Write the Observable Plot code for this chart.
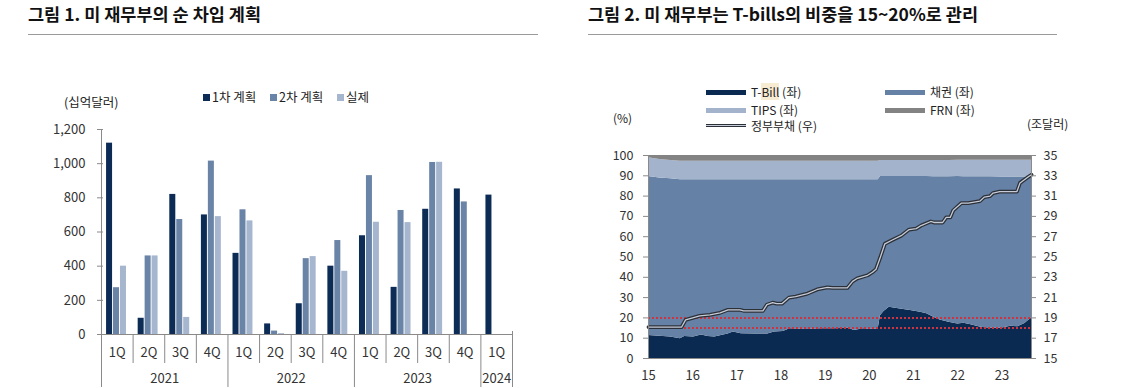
<!DOCTYPE html>
<html><head><meta charset="utf-8">
<script src="https://cdn.jsdelivr.net/npm/d3@7"></script>
<script src="https://cdn.jsdelivr.net/npm/@observablehq/plot@0.6"></script>
<style>
body{margin:0;background:#fff;font-family:'Noto Sans CJK KR','Noto Sans',sans-serif;color:#333}
#wrap{position:relative;width:1125px;height:388px;overflow:hidden;background:#fff}
.abs{position:absolute;white-space:nowrap}
.title{font-size:17.5px;font-weight:700;color:#111;top:2px;line-height:24px}
.hr{height:1px;background:#9a9a9a;top:34px}
.lg{font-size:12px;line-height:14px;color:#222}
.sq{width:7px;height:7px}
.sw{width:40px;height:5px}
svg{position:absolute;top:0}
</style></head>
<body><div id="wrap"></div>
<script>
// ---------- Figure 1 data ----------
const quarters = ["1Q","2Q","3Q","4Q","1Q","2Q","3Q","4Q","1Q","2Q","3Q","4Q","1Q"];
const years = ["2021","2022","2023","2024"];
const quartersPerYear = [4,4,4,1];
const seriesNames = ["1차 계획","2차 계획","실제"];
const plan1  = [1120, 95, 820, 700, 475, 62, 180, 400, 578, 276, 733, 852, 816];
const plan2  = [274, 460, 673, 1015, 730, 20, 444, 550, 930, 726, 1007, 776, null];
const actual = [400, 460, 100, 690, 665, 5, 456, 370, 657, 655, 1008, null, null];
const yTicks1 = [0, 200, 400, 600, 800, 1000, 1200];

// ---------- Figure 2 data ----------
const shareDates = [2015.00,2015.25,2015.50,2015.72,2015.82,2016.02,2016.20,2016.35,2016.50,2016.65,2016.80,2016.92,2017.10,2017.40,2017.70,2017.85,2018.05,2018.20,2018.60,2018.90,2019.20,2019.55,2019.65,2019.87,2020.10,2020.20,2020.25,2020.33,2020.45,2020.70,2020.93,2021.16,2021.30,2021.46,2021.60,2021.80,2022.00,2022.14,2022.30,2022.52,2022.75,2022.98,2023.20,2023.36,2023.52,2023.60,2023.67];
const tbillShare = [11.3,11.0,10.6,9.7,10.8,10.6,11.6,10.8,10.6,11.3,12.1,13.0,12.2,12.1,12.1,13.0,13.3,14.6,14.3,14.6,14.6,14.9,13.8,14.6,14.3,14.6,21.1,23.1,25.2,24.4,23.6,22.8,22.0,20.3,19.0,17.9,17.0,17.4,16.6,15.4,14.9,14.9,15.9,15.7,17.2,18.7,19.8];
const tipsShare = [9.2,9.1,9.0,9.2,9.2,9.2,9.2,9.2,9.2,9.2,9.2,9.2,9.2,9.2,9.2,9.2,9.2,9.2,9.2,9.2,9.2,9.2,9.2,9.2,9.2,9.2,7.8,7.8,7.8,7.8,7.9,7.9,7.9,8.0,8.0,8.0,8.0,8.1,8.1,8.1,8.1,8.2,8.2,8.2,8.2,8.3,8.3];
const frnShare = [1.1,2.0,2.5,2.8,2.8,2.8,2.8,2.8,2.8,2.8,2.8,2.8,2.8,2.8,2.8,2.8,2.8,2.8,2.8,2.8,2.8,2.8,2.8,2.8,2.8,2.8,2.5,2.5,2.5,2.5,2.5,2.5,2.5,2.5,2.5,2.5,2.4,2.4,2.4,2.4,2.4,2.4,2.4,2.4,2.4,2.4,2.4];
const debtDates = [2015.00,2015.75,2015.84,2016.16,2016.39,2016.62,2016.80,2017.07,2017.15,2017.59,2017.68,2017.81,2017.90,2018.02,2018.18,2018.33,2018.60,2018.82,2019.05,2019.16,2019.50,2019.62,2019.73,2019.96,2020.07,2020.15,2020.25,2020.35,2020.53,2020.72,2020.90,2021.06,2021.17,2021.39,2021.46,2021.66,2021.74,2021.83,2021.90,2022.08,2022.24,2022.50,2022.60,2022.73,2022.80,2022.95,2023.34,2023.41,2023.60,2023.67];
const debtTrillion = [18.1,18.1,18.8,19.2,19.3,19.5,19.8,19.8,19.7,19.7,20.3,20.5,20.4,20.4,21.0,21.1,21.4,21.8,22.0,21.95,21.95,22.6,22.9,23.2,23.5,23.8,25.0,26.3,26.7,27.1,27.7,27.8,28.1,28.5,28.4,28.4,28.9,28.9,29.6,30.3,30.3,30.5,30.9,31.0,31.3,31.45,31.45,32.3,32.9,33.1];
const shareNames = ["T-Bill","채권","TIPS","FRN"];
const pctTicks = [0,10,20,30,40,50,60,70,80,90,100];
const debtTicks = [15,17,19,21,23,25,27,29,31,33,35];
const yearTicks = [2015,2016,2017,2018,2019,2020,2021,2022,2023];
const targetBand = [15, 20];

// ---------- styles ----------
const barColors = ["#0c2c56","#6a84a7","#a6b6ce"];
const areaColors = ["#0b2a52","#6581a5","#a3b3cc","#838383"];
const axisColor = "#8a8a8a";
const FONT = "'Noto Sans CJK KR','Noto Sans',sans-serif";

const wrap = document.getElementById("wrap");

// ---------- Figure 1 ----------
const barOffset = [0.16, 0.38, 0.60], barW = 0.19;
const allSeries = [plan1, plan2, actual];
const barRows = [];
allSeries.forEach((arr, s) => arr.forEach((v, i) => { if (v != null) barRows.push({i, s: seriesNames[s], k: s, v}); }));
const yearStarts = []; let acc = 0;
quartersPerYear.forEach(n => { yearStarts.push(acc); acc += n; });
const yearBounds = [...yearStarts, acc];
const quarterBounds = d3.range(acc + 1).filter(b => !yearBounds.includes(b));

const chart1 = Plot.plot({
  width: 560, height: 388,
  marginLeft: 101, marginRight: 48, marginTop: 129, marginBottom: 54,
  style: {background: "transparent", fontFamily: FONT, color: "#333"},
  x: {domain: [0, quarters.length], axis: null},
  y: {domain: [0, 1200], axis: null},
  color: {domain: seriesNames, range: barColors},
  marks: [
    Plot.rectY(barRows, {x1: d => d.i + barOffset[d.k], x2: d => d.i + barOffset[d.k] + barW, y1: 0, y2: "v", fill: "s"}),
    Plot.ruleX([0], {y1: 0, y2: 1200, stroke: axisColor}),
    Plot.ruleY(yTicks1, {x1: 0, x2: 0, insetLeft: -4, insetRight: -2, stroke: axisColor}),
    Plot.ruleY([0], {x1: 0, x2: quarters.length, insetLeft: -4, stroke: axisColor}),
    Plot.ruleX(quarterBounds, {y1: 0, y2: 0, insetBottom: -29, stroke: axisColor}),
    Plot.ruleX(yearBounds, {y1: 0, y2: 0, insetBottom: -53, stroke: axisColor}),
    Plot.ruleX([quarters.length], {y1: 0, y2: 0, insetTop: -3, stroke: axisColor}),
    Plot.text(yTicks1, {x: 0, y: d => d, text: d => d3.format(",")(d), textAnchor: "end", dx: -16, fontSize: 13}),
    Plot.text(quarters, {x: (d, i) => i + 0.5, y: 0, dy: 18, text: d => d, fontSize: 13}),
    Plot.text(years, {x: (d, i) => yearStarts[i] + quartersPerYear[i] / 2, y: 0, dy: 44, text: d => d, fontSize: 13})
  ]
});
chart1.style.left = "0px";
wrap.appendChild(chart1);

// ---------- Figure 2 ----------
const areaRows = [];
shareDates.forEach((dt, i) => {
  const bonds = 100 - tbillShare[i] - tipsShare[i] - frnShare[i];
  [tbillShare[i], bonds, tipsShare[i], frnShare[i]].forEach((v, k) => areaRows.push({date: dt, series: shareNames[k], share: v}));
});
const debtRows = debtDates.map((dt, i) => ({date: dt, debt: debtTrillion[i]}));
const debtToPct = v => (v - debtTicks[0]) / (debtTicks[debtTicks.length - 1] - debtTicks[0]) * 100;
const x0 = shareDates[0], x1 = shareDates[shareDates.length - 1];

const chart2 = Plot.plot({
  width: 565, height: 388,
  marginLeft: 88, marginRight: 94, marginTop: 155, marginBottom: 30,
  style: {background: "transparent", fontFamily: FONT, color: "#333"},
  x: {domain: [x0, x1], axis: null},
  y: {domain: [0, 100], axis: null},
  color: {domain: shareNames, range: areaColors},
  marks: [
    Plot.areaY(areaRows, {x: "date", y: "share", fill: "series", z: "series", order: shareNames}),
    Plot.ruleY(targetBand, {stroke: "#cf3340", strokeWidth: 2, strokeDasharray: "2,2"}),
    Plot.line(debtRows, {x: "date", y: d => debtToPct(d.debt), stroke: "#2c3038", strokeWidth: 3.8}),
    Plot.line(debtRows, {x: "date", y: d => debtToPct(d.debt), stroke: "#c5ccd8", strokeWidth: 1.3}),
    Plot.ruleX([x0], {stroke: axisColor}),
    Plot.ruleX([x1], {stroke: axisColor}),
    Plot.ruleY([0], {stroke: axisColor}),
    Plot.ruleY(pctTicks, {x1: x0, x2: x0, insetLeft: -5, stroke: axisColor}),
    Plot.ruleY(debtTicks, {y: d => debtToPct(d), x1: x1, x2: x1, insetRight: -5, stroke: axisColor}),
    Plot.text(pctTicks, {x: x0, y: d => d, text: d => String(d), textAnchor: "end", dx: -15, fontSize: 12.5}),
    Plot.text(debtTicks, {x: x1, y: d => debtToPct(d), text: d => String(d), textAnchor: "start", dx: 12, fontSize: 12.5}),
    Plot.text(yearTicks, {x: d => d, y: 0, dy: 17, text: d => String(d).slice(2), fontSize: 13})
  ]
});
chart2.style.left = "560px";
wrap.appendChild(chart2);

// ---------- HTML titles & legends ----------
function add(html, cls, css) {
  const el = document.createElement("div");
  el.className = "abs " + (cls || "");
  el.innerHTML = html;
  Object.assign(el.style, css);
  wrap.appendChild(el);
  return el;
}
add("그림 1. 미 재무부의 순 차입 계획", "title", {left: "28px"});
add("그림 2. 미 재무부는 T-bills의 비중을 15~20%로 관리", "title", {left: "588px"});
add("", "hr", {left: "28px", width: "510px"});
add("", "hr", {left: "588px", width: "469px"});

// left legend
add("(십억달러)", "lg", {left: "64px", top: "95px", fontSize: "12.5px"});
const lgX = [203, 270, 337];
seriesNames.forEach((n, k) => {
  add("", "sq", {left: lgX[k] + "px", top: "94px", background: barColors[k]});
  add(n, "lg", {left: (lgX[k] + 9) + "px", top: "90px", fontSize: "12.5px"});
});

// right legend
const lg2 = [
  {x: 706, y: 90, name: "T-<span style=\"background:#f7ebd2\">Bill</span> (좌)", k: 0},
  {x: 885, y: 90, name: "채권 (좌)", k: 1},
  {x: 706, y: 108, name: "TIPS (좌)", k: 2},
  {x: 885, y: 108, name: "FRN (좌)", k: 3}
];
lg2.forEach(o => {
  add("", "sw", {left: o.x + "px", top: o.y + "px", background: areaColors[o.k]});
  add(o.name, "lg", {left: (o.x + 45) + "px", top: (o.y - 5) + "px"});
});
add("", "", {left: "706px", top: "124px", width: "40px", height: "1.4px", background: "#c5ccd8", borderTop: "1.2px solid #2c3038", borderBottom: "1.2px solid #2c3038"});
add("정부부채 (우)", "lg", {left: "751px", top: "119px"});
add("(%)", "lg", {left: "613px", top: "111px"});
add("(조달러)", "lg", {left: "1027px", top: "117px"});
</script>
</body></html>
